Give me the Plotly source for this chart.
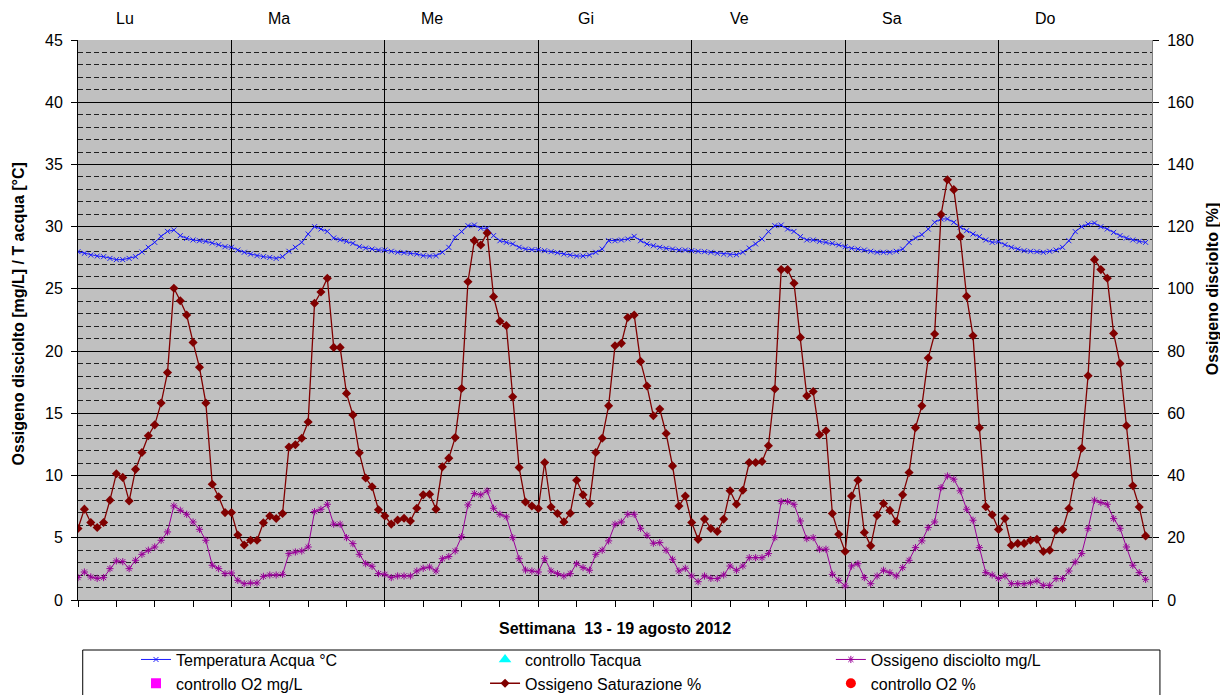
import plotly.graph_objects as go

# one week of hourly readings, 24 values per day
days = ['Lu', 'Ma', 'Me', 'Gi', 'Ve', 'Sa', 'Do']

# water temperature [°C]
temp = [
    27.99, 27.86, 27.72, 27.64, 27.59, 27.45, 27.35, 27.35, 27.45, 27.59, 27.96, 28.34, 28.74, 29.22, 29.62, 29.73, 29.28, 29.06, 28.93, 28.87, 28.82, 28.69, 28.55, 28.39,
    28.34, 28.12, 27.94, 27.80, 27.67, 27.59, 27.53, 27.45, 27.59, 28.02, 28.34, 28.74, 29.41, 30.00, 29.81, 29.62, 29.09, 28.95, 28.82, 28.66, 28.39, 28.28, 28.20, 28.12,
    28.12, 28.02, 27.94, 27.91, 27.86, 27.80, 27.67, 27.64, 27.67, 27.94, 28.34, 29.14, 29.60, 30.08, 30.13, 29.87, 29.87, 29.28, 28.87, 28.74, 28.61, 28.34, 28.20, 28.15,
    28.15, 28.07, 27.99, 27.91, 27.80, 27.72, 27.64, 27.64, 27.72, 27.94, 28.20, 28.87, 28.87, 28.93, 29.01, 29.22, 28.87, 28.61, 28.47, 28.34, 28.26, 28.20, 28.12, 28.12,
    28.07, 28.02, 27.99, 27.94, 27.86, 27.80, 27.75, 27.75, 27.94, 28.28, 28.61, 29.01, 29.60, 30.08, 30.13, 29.81, 29.62, 29.20, 28.93, 28.93, 28.82, 28.74, 28.66, 28.53,
    28.39, 28.26, 28.20, 28.12, 28.02, 27.94, 27.94, 27.94, 28.02, 28.20, 28.74, 29.09, 29.36, 29.81, 30.35, 30.62, 30.62, 30.35, 29.95, 29.68, 29.41, 29.20, 28.93, 28.74,
    28.79, 28.55, 28.34, 28.20, 28.07, 28.02, 27.99, 27.94, 28.02, 28.12, 28.34, 28.87, 29.60, 30.00, 30.21, 30.29, 30.00, 29.81, 29.54, 29.28, 29.09, 28.93, 28.82, 28.74,
]

# dissolved oxygen [mg/L]
o2_mg = [
    1.80, 2.25, 1.85, 1.74, 1.80, 2.52, 3.14, 3.08, 2.52, 3.19, 3.67, 4.00, 4.26, 4.80, 5.47, 7.56, 7.21, 6.89, 6.27, 5.68, 4.80, 2.79, 2.52, 2.12,
    2.17, 1.58, 1.31, 1.37, 1.37, 1.90, 2.01, 2.01, 2.06, 3.73, 3.86, 3.94, 4.26, 7.10, 7.29, 7.69, 6.09, 6.09, 5.01, 4.53, 3.67, 2.92, 2.71, 2.12,
    2.06, 1.80, 1.93, 1.93, 1.93, 2.33, 2.55, 2.65, 2.33, 3.32, 3.49, 3.94, 5.09, 7.64, 8.55, 8.45, 8.77, 7.37, 6.89, 6.68, 5.01, 3.32, 2.41, 2.33,
    2.25, 3.32, 2.33, 2.12, 1.93, 2.12, 2.92, 2.60, 2.39, 3.67, 4.00, 4.75, 6.09, 6.27, 6.89, 6.89, 5.76, 5.20, 4.56, 4.61, 4.00, 3.27, 2.33, 2.55,
    1.93, 1.47, 1.93, 1.74, 1.72, 2.01, 2.73, 2.39, 2.73, 3.40, 3.40, 3.40, 3.73, 5.01, 7.91, 7.91, 7.69, 6.35, 4.93, 5.01, 4.08, 4.08, 2.06, 1.58,
    1.13, 2.73, 2.92, 1.80, 1.31, 1.93, 2.39, 2.20, 1.93, 2.60, 3.19, 4.21, 4.75, 5.82, 6.27, 9.03, 9.97, 9.71, 8.77, 7.29, 6.41, 4.21, 2.20, 2.01,
    1.72, 1.93, 1.31, 1.31, 1.31, 1.39, 1.53, 1.18, 1.18, 1.72, 1.72, 2.33, 3.06, 3.73, 5.74, 8.02, 7.83, 7.69, 6.54, 5.76, 4.26, 2.79, 2.20, 1.66,
]

# oxygen saturation [%] (right axis)
o2_sat = [
    23.0, 29.2, 24.9, 23.3, 24.9, 32.1, 40.6, 39.4, 31.8, 42.0, 47.4, 52.8, 56.3, 63.3, 73.1, 100.2, 96.2, 91.6, 82.8, 74.8, 63.3, 37.2, 33.2, 28.1,
    28.1, 20.9, 17.7, 19.2, 19.2, 24.8, 27.0, 26.2, 27.8, 49.2, 49.9, 52.0, 57.2, 95.4, 99.0, 103.4, 81.2, 81.2, 66.4, 59.5, 47.3, 39.2, 36.4, 29.0,
    27.0, 24.4, 25.7, 26.3, 25.4, 29.5, 33.8, 34.0, 29.2, 42.8, 45.6, 52.2, 68.0, 102.3, 115.5, 114.1, 118.0, 97.5, 89.6, 88.2, 65.3, 42.6, 31.5, 30.2,
    29.4, 44.2, 29.9, 27.8, 25.1, 27.9, 38.5, 33.8, 31.0, 47.4, 52.0, 62.4, 81.7, 82.5, 90.8, 91.6, 76.7, 68.8, 59.2, 61.4, 53.5, 43.1, 30.2, 33.4,
    24.9, 19.5, 26.0, 23.0, 22.0, 26.0, 35.1, 30.8, 35.3, 44.2, 44.2, 44.5, 49.6, 67.8, 106.2, 106.2, 101.8, 84.4, 65.6, 67.0, 53.1, 54.4, 27.8, 21.1,
    15.6, 33.4, 38.5, 21.7, 17.4, 27.2, 31.0, 28.8, 25.2, 33.8, 41.0, 55.4, 62.4, 77.8, 85.5, 123.9, 135.1, 131.9, 116.8, 97.6, 84.9, 55.4, 30.0, 27.4,
    22.7, 26.2, 17.6, 18.2, 18.2, 19.2, 19.5, 15.6, 16.0, 22.4, 22.7, 29.4, 40.2, 48.8, 72.1, 109.4, 106.2, 103.4, 85.7, 76.0, 56.0, 36.7, 29.9, 20.6,
]

# control measurements: none taken this week
ctrl_temp = []
ctrl_o2_mg = []
ctrl_o2_sat = []

hours = list(range(len(temp)))
FONT = 'Liberation Sans, Arial, sans-serif'


def empty_or(vals):
    # plotly still needs something to put the trace in the legend
    return vals if vals else [None]


fig = go.Figure()

fig.add_trace(go.Scatter(
    x=hours, y=temp, name='Temperatura Acqua °C', mode='lines+markers',
    line=dict(color='#1a1aff', width=1),
    marker=dict(symbol='x-thin-open', size=5, line=dict(color='#1a1aff', width=1)),
    legend='legend'))
fig.add_trace(go.Scatter(
    x=empty_or([]), y=empty_or(ctrl_o2_mg), name='controllo O2 mg/L', mode='markers',
    marker=dict(symbol='square', size=10, color='#ff00ff'), legend='legend'))

fig.add_trace(go.Scatter(
    x=empty_or([]), y=empty_or(ctrl_temp), name='controllo Tacqua', mode='markers',
    marker=dict(symbol='triangle-up', size=11, color='#00ffff'), legend='legend2'))
fig.add_trace(go.Scatter(
    x=hours, y=o2_sat, name='Ossigeno Saturazione %', mode='lines+markers', yaxis='y2',
    line=dict(color='#800000', width=1.3),
    marker=dict(symbol='diamond', size=7, color='#800000'), legend='legend2'))

fig.add_trace(go.Scatter(
    x=hours, y=o2_mg, name='Ossigeno disciolto mg/L', mode='lines+markers',
    line=dict(color='#990099', width=1),
    marker=dict(symbol='asterisk-open', size=6, line=dict(color='#990099', width=1)),
    legend='legend3'))
fig.add_trace(go.Scatter(
    x=empty_or([]), y=empty_or(ctrl_o2_sat), name='controllo O2 %', mode='markers', yaxis='y2',
    marker=dict(symbol='circle', size=10, color='#ff0000'), legend='legend3'))

# day names above the plot
annotations = []
for i, d in enumerate(days):
    annotations.append(dict(x=i * 24 + 7.4, y=1, xref='x', yref='paper', yshift=22,
                            xanchor='center', yanchor='middle',
                            text=d, showarrow=False, font=dict(size=16, color='black')))

# axis titles
annotations.append(dict(x=0, y=0.51, xref='paper', yref='paper', xshift=-60, textangle=-90,
                        xanchor='center', yanchor='middle',
                        text='<b>Ossigeno disciolto [mg/L] / T acqua [°C]</b>', showarrow=False,
                        font=dict(size=16, color='black')))
annotations.append(dict(x=1, y=0.555, xref='paper', yref='paper', xshift=60, textangle=-90,
                        xanchor='center', yanchor='middle',
                        text='<b>Ossigeno disciolto [%]</b>', showarrow=False,
                        font=dict(size=16, color='black')))
annotations.append(dict(x=0.5, y=0, xref='paper', yref='paper', yshift=-28,
                        xanchor='center', yanchor='middle',
                        text='<b>Settimana  13 - 19 agosto 2012</b>', showarrow=False,
                        font=dict(size=16, color='black')))

legend_style = dict(yanchor='top', y=-0.076, xanchor='left', bgcolor='rgba(0,0,0,0)',
                    font=dict(size=16, color='black'), tracegroupgap=0)

# the page body adds 8px around the figure, margins make up for it
fig.update_layout(
    width=1228, height=695,
    margin=dict(l=70, r=84, t=32, b=103, autoexpand=False),
    paper_bgcolor='white', plot_bgcolor='#c0c0c0',
    font=dict(family=FONT, color='black'),
    showlegend=True,
    legend=dict(x=0.054, **legend_style),
    legend2=dict(x=0.379, **legend_style),
    legend3=dict(x=0.701, **legend_style),
    annotations=annotations,
    shapes=[dict(type='rect', xref='paper', yref='paper', x0=0.0044, x1=1.0074, y0=-0.0893, y1=-0.19,
                 line=dict(color='black', width=1), fillcolor='rgba(0,0,0,0)')],
    xaxis=dict(range=[0, 168], tickvals=list(range(0, 169, 24)), showticklabels=False,
               showgrid=True, gridcolor='black', gridwidth=1, zeroline=False,
               ticks='outside', ticklen=6, tickcolor='black',
               showline=True, linecolor='black', linewidth=1,
               minor=dict(dtick=6, tick0=0, ticks='outside', ticklen=6, tickcolor='black', showgrid=False)),
    yaxis=dict(range=[0, 45], dtick=5, tick0=0, showgrid=True, gridcolor='black', gridwidth=1,
               zeroline=False, ticks='outside', ticklen=6, tickcolor='black', ticklabelstandoff=5,
               showline=True, linecolor='black', linewidth=1, tickfont=dict(size=16),
               minor=dict(dtick=1, tick0=0, showgrid=True, gridcolor='#202020', gridwidth=1,
                          griddash='5px,3px')),
    yaxis2=dict(range=[0, 180], dtick=20, tick0=0, overlaying='y', side='right',
                showgrid=False, zeroline=False, ticks='outside', ticklen=6, tickcolor='black',
                ticklabelstandoff=5,
                showline=True, linecolor='#808080', linewidth=1, tickfont=dict(size=16)),
)

fig.write_html("out.html")
